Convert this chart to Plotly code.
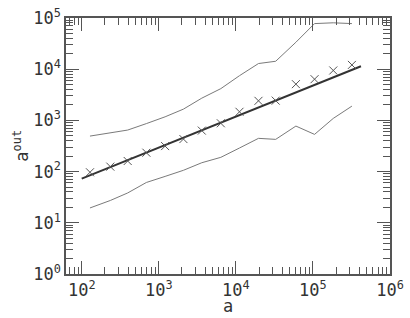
import plotly.graph_objects as go

# data
a_vals = [128, 235, 395, 690, 1208, 2087, 3614, 6380, 11140, 19650,
          32880, 60120, 105000, 183600, 320600]
aout_mean = [97, 125, 161, 234, 315, 432, 632, 879, 1473, 2411,
             2433, 5104, 6385, 9440, 12130]
aout_upper = [494, 566, 648, 866, 1175, 1660, 2720, 4170, 7470, 12900,
              14300, 33600, 77800, 80600, 77800]
aout_lower = [19.5, 27.3, 38.3, 61.3, 80.6, 106, 149, 190, 289, 446,
              426, 775, 533, 1094, 1901]
fit_a = [100, 420000]
fit_aout = [72.7, 11440]
x_decades = [2, 3, 4, 5, 6]
y_decades = [0, 1, 2, 3, 4, 5]
minor_steps = [2, 3, 4, 5, 6, 7, 8, 9]

x_tick_vals = [10 ** d for d in x_decades]
x_tick_text = [f"10<sup>{d}</sup>" for d in x_decades]
y_tick_vals = [10 ** d for d in y_decades]
y_tick_text = [f"10<sup>{d}</sup>" for d in y_decades]
x_minor = [m * 10 ** d for d in [1] + x_decades for m in minor_steps]
y_minor = [m * 10 ** d for d in y_decades for m in minor_steps]

FONT = "DejaVu Sans Mono"
AX = "#555555"
TXT = "#333333"

fig = go.Figure()
fig.add_trace(go.Scatter(x=a_vals, y=aout_upper, mode="lines",
                         line=dict(color="#7a7a7a", width=1), showlegend=False))
fig.add_trace(go.Scatter(x=a_vals, y=aout_lower, mode="lines",
                         line=dict(color="#7a7a7a", width=1), showlegend=False))
fig.add_trace(go.Scatter(x=fit_a, y=fit_aout, mode="lines",
                         line=dict(color="#333333", width=2), showlegend=False))
fig.add_trace(go.Scatter(x=a_vals, y=aout_mean, mode="markers",
                         marker=dict(symbol="x-thin-open", size=8, color="#555555",
                                     line=dict(color="#555555", width=1)),
                         showlegend=False))

axis_common = dict(
    type="log", showgrid=False, zeroline=False, automargin=False,
    showline=True, linecolor=AX, linewidth=1.5, mirror="ticks",
    ticks="inside", ticklen=13, tickwidth=1, tickcolor=AX,
    ticklabeloverflow="allow",
    tickfont=dict(family=FONT, size=17, color=TXT),
)

fig.update_layout(
    width=410, height=318,
    margin=dict(l=66, r=20, t=18, b=44),
    paper_bgcolor="white", plot_bgcolor="white",
    font=dict(family=FONT, color=TXT),
    xaxis=dict(range=[1.796, 6], tickmode="array", tickvals=x_tick_vals, ticktext=x_tick_text,
               minor=dict(ticks="inside", ticklen=7, tickwidth=1, tickcolor=AX,
                          showgrid=False, tickmode="array", tickvals=x_minor),
               **axis_common),
    yaxis=dict(range=[0, 5], tickmode="array", tickvals=y_tick_vals, ticktext=y_tick_text,
               minor=dict(ticks="inside", ticklen=7, tickwidth=1, tickcolor=AX,
                          showgrid=False, tickmode="array", tickvals=y_minor),
               **axis_common),
    annotations=[
        dict(text="a", xref="paper", yref="paper", x=0.5, y=-0.125,
             xanchor="center", yanchor="middle", showarrow=False,
             font=dict(family=FONT, size=17, color=TXT)),
        dict(text="a<sup>out</sup>", xref="paper", yref="paper", x=-0.14, y=0.5,
             xanchor="center", yanchor="middle", textangle=-90, showarrow=False,
             font=dict(family=FONT, size=17, color=TXT)),
    ],
)

fig.write_html("out.html", config={"displayModeBar": False},
               post_script="document.body.style.margin='0';document.body.style.overflow='hidden';")
